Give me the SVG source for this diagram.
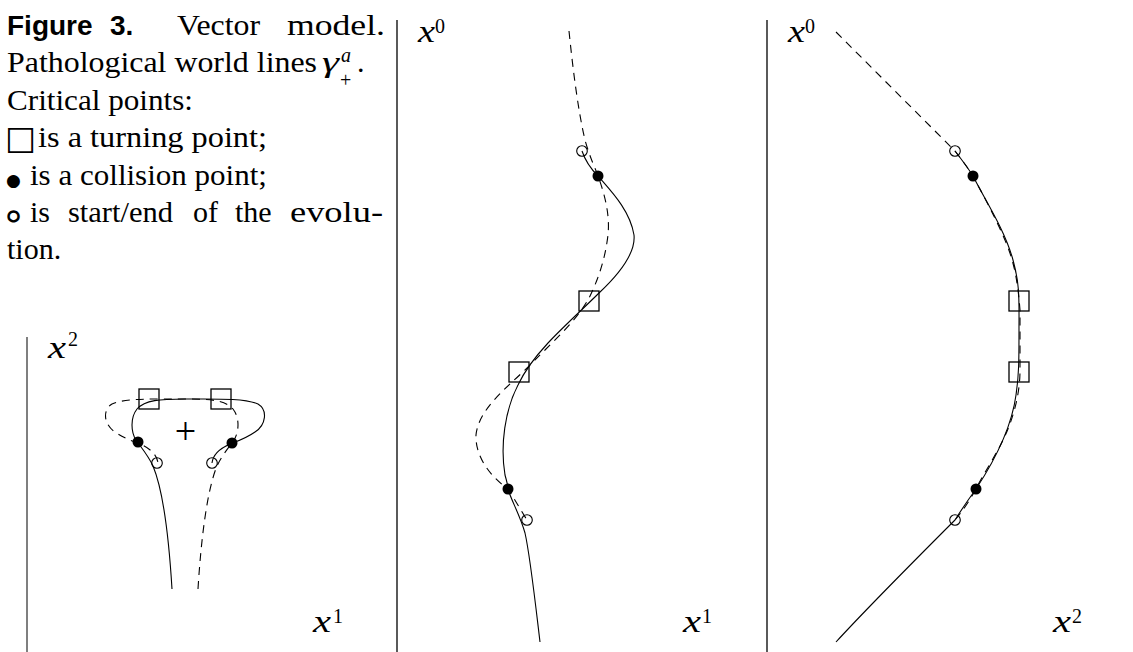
<svg xmlns="http://www.w3.org/2000/svg" width="1133" height="652" viewBox="0 0 1133 652">
<style>
.txt{font-family:"Liberation Serif","Times New Roman",serif;font-size:30px;fill:#000}
.bold{font-family:"Liberation Sans",Arial,sans-serif;font-weight:bold;font-size:28px;fill:#000}
.mi{font-family:"Liberation Serif","Times New Roman",serif;font-style:italic;font-size:31px;fill:#000}
.sup{font-family:"Liberation Serif","Times New Roman",serif;font-size:20px;fill:#000}
.sym{font-family:"DejaVu Sans",sans-serif;fill:#000}
.axis{stroke:#000;stroke-width:1.3;fill:none}
.solid{stroke:#000;stroke-width:1.1;fill:none}
.dash{stroke:#000;stroke-width:1.1;fill:none;stroke-dasharray:8 6}
.turn{stroke:#000;stroke-width:1.3;fill:none}
.coll{fill:#000;stroke:none}
.end{fill:none;stroke:#000;stroke-width:1.1}
</style>
<g id="caption">
<text class="bold" x="7" y="35">Figure</text>
<text class="bold" x="110" y="35">3.</text>
<text class="txt" x="177" y="35" textLength="83" lengthAdjust="spacingAndGlyphs">Vector</text>
<text class="txt" x="287" y="35" textLength="98" lengthAdjust="spacingAndGlyphs">model.</text>
<text class="txt" x="7" y="72" textLength="310" lengthAdjust="spacingAndGlyphs">Pathological world lines</text>
<text class="txt" x="322" y="72" font-style="italic" textLength="17" lengthAdjust="spacingAndGlyphs">γ</text>
<text class="sup" x="341" y="62" font-style="italic">a</text>
<text class="sup" x="340" y="87">+</text>
<text class="txt" x="357" y="72">.</text>
<text class="txt" x="7" y="110" textLength="186" lengthAdjust="spacingAndGlyphs">Critical points:</text>
<text class="sym" x="5" y="149" style="font-size:33px">□</text>
<text class="txt" x="38" y="147" textLength="229" lengthAdjust="spacingAndGlyphs">is a turning point;</text>
<text class="sym" x="6" y="186" style="font-size:17px">●</text>
<text class="txt" x="30" y="185" textLength="237" lengthAdjust="spacingAndGlyphs">is a collision point;</text>
<text class="sym" x="1" y="229" style="font-size:40px">∘</text>
<text class="txt" x="30" y="222">is</text>
<text class="txt" x="68" y="222" textLength="105" lengthAdjust="spacingAndGlyphs">start/end</text>
<text class="txt" x="193" y="222">of</text>
<text class="txt" x="235" y="222">the</text>
<text class="txt" x="290" y="222" textLength="93" lengthAdjust="spacingAndGlyphs">evolu-</text>
<text class="txt" x="7" y="259">tion.</text>
</g>
<g id="axes">
<line x1="27" y1="337" x2="27" y2="652" stroke="#555" stroke-width="1.5"/>
<line class="axis" x1="397" y1="20" x2="397" y2="652"/>
<line class="axis" x1="767" y1="20" x2="767" y2="652"/>
</g>
<g id="labels">
<text class="mi" x="48" y="358" textLength="18" lengthAdjust="spacingAndGlyphs">x</text><text class="sup" x="68" y="346">2</text>
<text class="mi" x="313" y="632" textLength="18" lengthAdjust="spacingAndGlyphs">x</text><text class="sup" x="333" y="623">1</text>
<text class="mi" x="418" y="42" textLength="17" lengthAdjust="spacingAndGlyphs">x</text><text class="sup" x="435" y="33">0</text>
<text class="mi" x="683" y="632" textLength="18" lengthAdjust="spacingAndGlyphs">x</text><text class="sup" x="702" y="623">1</text>
<text class="mi" x="788" y="42" textLength="17" lengthAdjust="spacingAndGlyphs">x</text><text class="sup" x="805" y="33">0</text>
<text class="mi" x="1053" y="632" textLength="18" lengthAdjust="spacingAndGlyphs">x</text><text class="sup" x="1072" y="623">2</text>
</g>
<g id="connectors">
<path class="solid" d="M172,589 C169,540 163,490 153,466 C148,455 140,446 136,440 C131,432 130,418 137,409 C145,400 160,399 185,399 C215,399 245,398 258,404 C268,410 266,425 255,432 C245,439 235,442 230,444 C221,448 213,454 212,463"/>
<path class="dash" d="M198,589 C201,540 207,490 217,466 C222,455 230,446 234,440 C239,432 240,418 233,409 C225,400 210,399 185,399 C155,399 125,398 112,404 C102,410 104,425 115,432 C125,439 135,442 140,444 C149,448 157,454 158,463"/>
<path class="solid" d="M582,151 C585,160 590,168 598,176 C610,190 630,210 634,235 C636,255 615,278 599,293 C585,307 565,325 548,343 C535,357 525,370 518,385 C505,410 500,445 505,475 C507,482 508,486 508,489 C511,500 520,515 525,533 C530,555 535,600 540,642"/>
<path class="dash" d="M569,31 C573,70 578,110 585,140 C590,158 596,170 598,176 C605,195 610,215 608,235 C605,260 598,280 589,298 C578,318 560,335 545,350 C530,365 520,375 512,382 C495,398 478,415 476,435 C475,460 495,480 508,489 C515,500 522,512 527,520"/>
<path class="solid" d="M955,151 C962,160 968,168 973,176 C985,200 1005,230 1013,260 C1020,285 1019,300 1019,330 C1019,360 1019,375 1016,395 C1012,425 995,460 976,489 C968,500 960,512 955,520 C920,555 870,605 836,642"/>
<path class="dash" d="M836,32 L955,151 C962,160 968,168 973,176 C983,195 997,220 1007,245 C1015,265 1018,285 1020,310 L1020,370 C1020,400 1010,430 995,455 C988,468 980,480 976,489 C970,500 962,512 955,520"/>
</g>
<g id="node-left-turn1"><rect class="turn" x="139" y="389" width="20" height="20"/></g>
<g id="node-left-turn2"><rect class="turn" x="211" y="389" width="20" height="20"/></g>
<g id="node-left-origin"><text class="txt" x="185.5" y="444" text-anchor="middle" style="font-size:38px">+</text></g>
<g id="node-left-coll1"><circle class="coll" cx="138" cy="442" r="5.5"/></g>
<g id="node-left-coll2"><circle class="coll" cx="232" cy="443" r="5.5"/></g>
<g id="node-left-end1"><circle class="end" cx="157" cy="463" r="5.3"/></g>
<g id="node-left-end2"><circle class="end" cx="212" cy="463" r="5.3"/></g>
<g id="node-mid-turn1"><rect class="turn" x="579" y="291" width="20" height="20"/></g>
<g id="node-mid-turn2"><rect class="turn" x="509" y="362" width="20" height="20"/></g>
<g id="node-mid-coll1"><circle class="coll" cx="598" cy="176" r="5.5"/></g>
<g id="node-mid-coll2"><circle class="coll" cx="508" cy="489" r="5.5"/></g>
<g id="node-mid-end1"><circle class="end" cx="582" cy="151" r="5.3"/></g>
<g id="node-mid-end2"><circle class="end" cx="527" cy="520" r="5.3"/></g>
<g id="node-right-turn1"><rect class="turn" x="1009" y="291" width="20" height="20"/></g>
<g id="node-right-turn2"><rect class="turn" x="1009" y="362" width="20" height="20"/></g>
<g id="node-right-coll1"><circle class="coll" cx="973" cy="176" r="5.5"/></g>
<g id="node-right-coll2"><circle class="coll" cx="976" cy="489" r="5.5"/></g>
<g id="node-right-end1"><circle class="end" cx="955" cy="151" r="5.3"/></g>
<g id="node-right-end2"><circle class="end" cx="955" cy="520" r="5.3"/></g>
</svg>
